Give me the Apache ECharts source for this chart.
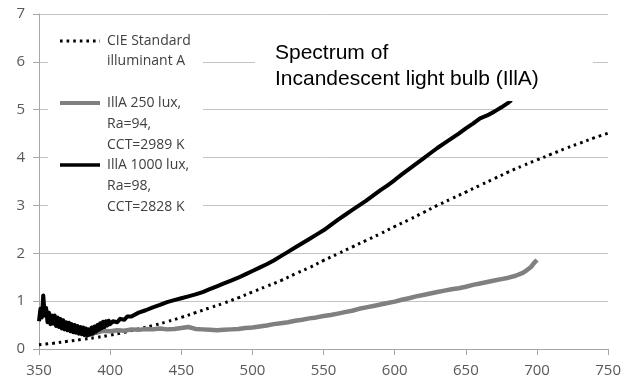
<!DOCTYPE html>
<html>
<head>
<meta charset="utf-8">
<script src="https://cdn.jsdelivr.net/npm/echarts@6/dist/echarts.min.js"></script>
<style>
html,body{margin:0;padding:0;background:#fff;}
#chart{width:624px;height:382px;}
</style>
</head>
<body>
<div id="chart"></div>
<script>
// ---- data ----
var xTicks = [350, 400, 450, 500, 550, 600, 650, 700, 750];
var yTicks = [0, 1, 2, 3, 4, 5, 6, 7];

var cieX = [350,360,370,380,390,400,410,420,430,440,450,460,470,480,490,500,510,520,530,540,550,560,570,580,590,600,610,620,630,640,650,660,670,680,690,700,710,720,730,740,750];
var cieY = [0.09,0.12,0.16,0.20,0.24,0.29,0.35,0.42,0.49,0.57,0.66,0.76,0.86,0.96,1.07,1.19,1.31,1.43,1.57,1.70,1.85,1.99,2.13,2.27,2.41,2.56,2.70,2.85,3.00,3.14,3.28,3.42,3.56,3.70,3.83,3.95,4.07,4.19,4.30,4.41,4.51];

var lux1000X = [350,351,352,353,354,355,356,357,358,359,360,361,362,363,364,365,366,367,368,369,370,371,372,373,374,375,376,377,378,379,380,381,382,383,384,385,386,387,388,389,390,391,392,393,394,395,396,397,398,399,400,
  402,405,407,410,412,415,420,425,430,435,440,445,450,455,460,465,470,475,480,485,490,495,500,505,510,515,520,525,530,535,540,545,550,555,560,565,570,575,580,585,590,595,600,605,610,615,620,625,630,635,640,645,650,655,660,665,670,675,680,682];
var lux1000Y = [0.58,0.84,0.66,1.12,0.70,0.86,0.56,0.76,0.52,0.70,0.53,0.70,0.48,0.66,0.46,0.63,0.43,0.60,0.41,0.56,0.39,0.55,0.37,0.52,0.35,0.50,0.34,0.48,0.32,0.46,0.31,0.45,0.29,0.43,0.28,0.41,0.30,0.45,0.32,0.47,0.36,0.50,0.40,0.54,0.43,0.57,0.46,0.58,0.49,0.59,0.52,
  0.58,0.56,0.63,0.61,0.68,0.68,0.76,0.81,0.87,0.92,0.98,1.02,1.06,1.10,1.14,1.19,1.25,1.31,1.37,1.43,1.49,1.56,1.63,1.70,1.77,1.85,1.94,2.03,2.12,2.21,2.30,2.39,2.48,2.59,2.70,2.80,2.90,3.00,3.10,3.21,3.32,3.42,3.53,3.65,3.76,3.87,3.98,4.09,4.20,4.30,4.40,4.50,4.61,4.71,4.82,4.88,4.96,5.05,5.15,5.20];

var lux250X = [385,390,395,400,405,410,415,420,425,430,435,440,445,450,455,460,465,470,475,480,485,490,495,500,505,510,515,520,525,530,535,540,545,550,555,560,565,570,575,580,585,590,595,600,605,610,615,620,625,630,635,640,645,650,655,660,665,670,675,680,685,690,693,696,698,700];
var lux250Y = [0.33,0.34,0.38,0.37,0.39,0.38,0.41,0.40,0.42,0.41,0.43,0.41,0.42,0.44,0.46,0.42,0.41,0.40,0.39,0.40,0.41,0.42,0.44,0.45,0.47,0.49,0.52,0.54,0.56,0.59,0.61,0.64,0.66,0.69,0.71,0.74,0.77,0.80,0.84,0.87,0.90,0.93,0.96,0.99,1.03,1.06,1.10,1.13,1.16,1.19,1.22,1.25,1.27,1.30,1.34,1.37,1.40,1.43,1.46,1.49,1.53,1.59,1.65,1.72,1.80,1.86];

var seriesNames = ['CIE Standard illuminant A', 'IllA 250 lux, Ra=94, CCT=2989 K', 'IllA 1000 lux, Ra=98, CCT=2828 K'];
var legendLines = [['CIE Standard', 'illuminant A'], ['IllA 250 lux,', 'Ra=94,', 'CCT=2989 K'], ['IllA 1000 lux,', 'Ra=98,', 'CCT=2828 K']];
var titleText = 'Spectrum of\nIncandescent light bulb (IllA)';

function pairs(xs, ys) { return xs.map(function (x, i) { return [x, ys[i]]; }); }

var labelFont = { fontFamily: 'Open Sans', fontSize: 15, color: '#595959' };

var chart = echarts.init(document.getElementById('chart'), null, { renderer: 'canvas' });
chart.setOption({
  animation: false,
  backgroundColor: '#fff',
  grid: { left: 39, right: 13, top: 14, bottom: 33 },
  title: {
    text: titleText,
    left: 255, top: 29,
    padding: [11, 54, 9, 20],
    backgroundColor: '#fff',
    textStyle: { fontFamily: 'Liberation Sans', fontSize: 21, fontWeight: 'normal', color: '#000', lineHeight: 26 }
  },
  xAxis: {
    type: 'value', min: 350, max: 750, interval: 50,
    axisLine: { show: true, lineStyle: { color: '#a6a6a6', width: 1 } },
    axisTick: { show: true, length: 6, lineStyle: { color: '#a6a6a6' } },
    splitLine: { show: false },
    axisLabel: Object.assign({ margin: 14, formatter: function (v) { return String(v); } }, labelFont)
  },
  yAxis: {
    type: 'value', min: 0, max: 7, interval: 1,
    axisLine: { show: true, lineStyle: { color: '#a6a6a6', width: 1 } },
    axisTick: { show: true, length: 6, lineStyle: { color: '#a6a6a6' } },
    splitLine: { show: true, lineStyle: { color: '#c4c4c4', width: 1 } },
    axisLabel: Object.assign({ margin: 14 }, labelFont)
  },
  series: [
    {
      name: seriesNames[0], type: 'line', data: pairs(cieX, cieY),
      showSymbol: false, smooth: true, z: 3,
      lineStyle: { color: '#000', width: 3, type: [2.6, 4], cap: 'butt' }
    },
    {
      name: seriesNames[1], type: 'line', data: pairs(lux250X, lux250Y),
      showSymbol: false, z: 4,
      lineStyle: { color: '#808080', width: 4.5, join: 'round' }
    },
    {
      name: seriesNames[2], type: 'line', data: pairs(lux1000X, lux1000Y),
      showSymbol: false, z: 5,
      lineStyle: { color: '#000', width: 4, join: 'round' }
    }
  ],
  graphic: [
    { type: 'rect', z: 50, shape: { x: 48, y: 22, width: 155, height: 208 }, style: { fill: '#fff' } },
    { type: 'line', z: 51, shape: { x1: 60, y1: 41, x2: 100, y2: 41 }, style: { stroke: '#000', lineWidth: 3, lineDash: [2.6, 4] } },
    { type: 'text', z: 51, x: 107, y: 31, style: { text: legendLines[0].join('\n'), font: '14px "Open Sans"', fill: '#404040', lineHeight: 20, verticalAlign: 'top' } },
    { type: 'line', z: 51, shape: { x1: 60, y1: 103, x2: 100, y2: 103 }, style: { stroke: '#808080', lineWidth: 4 } },
    { type: 'text', z: 51, x: 107, y: 92.5, style: { text: legendLines[1].join('\n'), font: '14px "Open Sans"', fill: '#404040', lineHeight: 21, verticalAlign: 'top' } },
    { type: 'line', z: 51, shape: { x1: 60, y1: 165, x2: 100, y2: 165 }, style: { stroke: '#000', lineWidth: 3.6 } },
    { type: 'text', z: 51, x: 107, y: 154.5, style: { text: legendLines[2].join('\n'), font: '14px "Open Sans"', fill: '#404040', lineHeight: 21, verticalAlign: 'top' } }
  ]
});
</script>
</body>
</html>
